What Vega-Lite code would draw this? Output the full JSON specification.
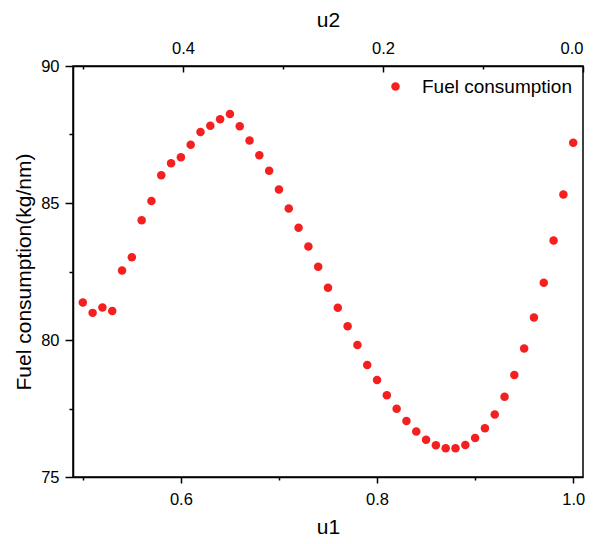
{
  "$schema": "https://vega.github.io/schema/vega-lite/v6.json",
  "width": 510,
  "height": 411,
  "autosize": {"type": "none"},
  "padding": {"left": 73, "top": 66, "right": 12, "bottom": 67},
  "background": "white",
  "config": {
    "font": "Liberation Sans",
    "view": {"stroke": "black", "strokeWidth": 1.5},
    "axis": {
      "grid": false,
      "domainColor": "black",
      "domainWidth": 1.5,
      "tickColor": "black",
      "tickWidth": 1.5,
      "labelColor": "black",
      "labelFont": "Liberation Sans",
      "labelFontSize": 16.5,
      "titleFont": "Liberation Sans",
      "titleFontSize": 21,
      "titleFontWeight": "normal",
      "titleColor": "black"
    },
    "legend": {"padding": 0}
  },
  "datasets": {
    "main": [
      {"u1": 0.50, "fuel": 81.37, "series": "Fuel consumption"},
      {"u1": 0.51, "fuel": 80.99, "series": "Fuel consumption"},
      {"u1": 0.52, "fuel": 81.19, "series": "Fuel consumption"},
      {"u1": 0.53, "fuel": 81.06, "series": "Fuel consumption"},
      {"u1": 0.54, "fuel": 82.54, "series": "Fuel consumption"},
      {"u1": 0.55, "fuel": 83.02, "series": "Fuel consumption"},
      {"u1": 0.56, "fuel": 84.37, "series": "Fuel consumption"},
      {"u1": 0.57, "fuel": 85.07, "series": "Fuel consumption"},
      {"u1": 0.58, "fuel": 86.01, "series": "Fuel consumption"},
      {"u1": 0.59, "fuel": 86.45, "series": "Fuel consumption"},
      {"u1": 0.60, "fuel": 86.67, "series": "Fuel consumption"},
      {"u1": 0.61, "fuel": 87.13, "series": "Fuel consumption"},
      {"u1": 0.62, "fuel": 87.59, "series": "Fuel consumption"},
      {"u1": 0.63, "fuel": 87.82, "series": "Fuel consumption"},
      {"u1": 0.64, "fuel": 88.06, "series": "Fuel consumption"},
      {"u1": 0.65, "fuel": 88.25, "series": "Fuel consumption"},
      {"u1": 0.66, "fuel": 87.80, "series": "Fuel consumption"},
      {"u1": 0.67, "fuel": 87.28, "series": "Fuel consumption"},
      {"u1": 0.68, "fuel": 86.74, "series": "Fuel consumption"},
      {"u1": 0.69, "fuel": 86.18, "series": "Fuel consumption"},
      {"u1": 0.70, "fuel": 85.49, "series": "Fuel consumption"},
      {"u1": 0.71, "fuel": 84.80, "series": "Fuel consumption"},
      {"u1": 0.72, "fuel": 84.10, "series": "Fuel consumption"},
      {"u1": 0.73, "fuel": 83.41, "series": "Fuel consumption"},
      {"u1": 0.74, "fuel": 82.67, "series": "Fuel consumption"},
      {"u1": 0.75, "fuel": 81.91, "series": "Fuel consumption"},
      {"u1": 0.76, "fuel": 81.18, "series": "Fuel consumption"},
      {"u1": 0.77, "fuel": 80.50, "series": "Fuel consumption"},
      {"u1": 0.78, "fuel": 79.82, "series": "Fuel consumption"},
      {"u1": 0.79, "fuel": 79.09, "series": "Fuel consumption"},
      {"u1": 0.80, "fuel": 78.54, "series": "Fuel consumption"},
      {"u1": 0.81, "fuel": 77.98, "series": "Fuel consumption"},
      {"u1": 0.82, "fuel": 77.49, "series": "Fuel consumption"},
      {"u1": 0.83, "fuel": 77.04, "series": "Fuel consumption"},
      {"u1": 0.84, "fuel": 76.66, "series": "Fuel consumption"},
      {"u1": 0.85, "fuel": 76.36, "series": "Fuel consumption"},
      {"u1": 0.86, "fuel": 76.16, "series": "Fuel consumption"},
      {"u1": 0.87, "fuel": 76.05, "series": "Fuel consumption"},
      {"u1": 0.88, "fuel": 76.05, "series": "Fuel consumption"},
      {"u1": 0.89, "fuel": 76.17, "series": "Fuel consumption"},
      {"u1": 0.90, "fuel": 76.42, "series": "Fuel consumption"},
      {"u1": 0.91, "fuel": 76.78, "series": "Fuel consumption"},
      {"u1": 0.92, "fuel": 77.28, "series": "Fuel consumption"},
      {"u1": 0.93, "fuel": 77.93, "series": "Fuel consumption"},
      {"u1": 0.94, "fuel": 78.72, "series": "Fuel consumption"},
      {"u1": 0.95, "fuel": 79.69, "series": "Fuel consumption"},
      {"u1": 0.96, "fuel": 80.82, "series": "Fuel consumption"},
      {"u1": 0.97, "fuel": 82.09, "series": "Fuel consumption"},
      {"u1": 0.98, "fuel": 83.63, "series": "Fuel consumption"},
      {"u1": 0.99, "fuel": 85.31, "series": "Fuel consumption"},
      {"u1": 1.00, "fuel": 87.20, "series": "Fuel consumption"}
    ],
    "top": [
      {"u2": 0.0},
      {"u2": 0.5}
    ]
  },
  "layer": [
    {
      "data": {"name": "main"},
      "mark": {"type": "point", "filled": true, "size": 72, "opacity": 1},
      "encoding": {
        "x": {
          "field": "u1", "type": "quantitative",
          "scale": {"domain": [0.49, 1.01], "nice": false, "zero": false},
          "axis": {
            "orient": "bottom", "title": "u1",
            "values": [0.5, 0.6, 0.7, 0.8, 0.9, 1.0],
            "labelExpr": "round(datum.value*10)%2==0 ? format(datum.value,'.1f') : ''",
            "tickSize": {"condition": {"test": "round(datum.value*10)%2==0", "value": 6}, "value": 3},
            "labelPadding": 8,
            "titlePadding": 9
          }
        },
        "y": {
          "field": "fuel", "type": "quantitative",
          "scale": {"domain": [75, 90], "nice": false, "zero": false},
          "axis": {
            "title": "Fuel consumption(kg/nm)",
            "values": [75, 77.5, 80, 82.5, 85, 87.5, 90],
            "labelExpr": "datum.value%5==0 ? format(datum.value,'d') : ''",
            "tickSize": {"condition": {"test": "datum.value%5==0", "value": 8}, "value": 4},
            "labelPadding": 6,
            "titlePadding": 6
          }
        },
        "color": {
          "field": "series", "type": "nominal",
          "scale": {"range": ["#f41f1f"]},
          "legend": {
            "title": null,
            "orient": "none",
            "legendX": 313,
            "legendY": 11,
            "symbolType": "circle",
            "symbolSize": 72,
            "symbolStrokeWidth": 0,
            "labelFontSize": 19,
            "labelFont": "Liberation Sans",
            "labelColor": "black",
            "labelOffset": 17
          }
        }
      }
    },
    {
      "data": {"name": "top"},
      "mark": {"type": "point", "opacity": 0},
      "encoding": {
        "x": {
          "field": "u2", "type": "quantitative",
          "scale": {"domain": [0, 0.51], "reverse": true, "nice": false, "zero": false},
          "axis": {
            "orient": "top", "title": "u2",
            "values": [0, 0.1, 0.2, 0.3, 0.4, 0.5],
            "labelExpr": "round(datum.value*10)%2==0 ? format(datum.value,'.1f') : ''",
            "tickSize": {"condition": {"test": "round(datum.value*10)%2==0", "value": -6}, "value": -3},
            "labelPadding": 16,
            "titlePadding": 10
          }
        }
      }
    }
  ],
  "resolve": {"scale": {"x": "independent"}, "axis": {"x": "independent"}}
}
